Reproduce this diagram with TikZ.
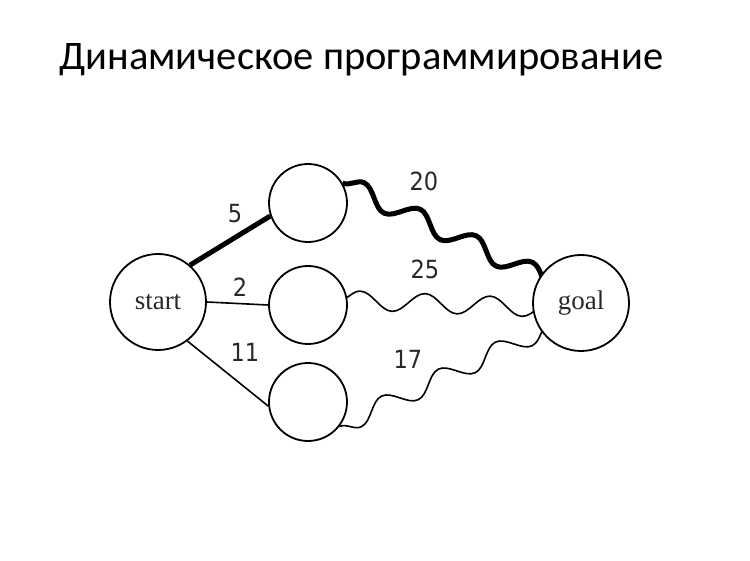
\documentclass[tikz,border=0pt]{standalone}
\usepackage{fontspec}
\setmainfont{Liberation Serif}
\newfontfamily\titlefont{Carlito}
\newfontfamily\numfont{DejaVu Sans Condensed}
\usetikzlibrary{decorations.pathmorphing,backgrounds,calc}
\definecolor{txt}{RGB}{40,40,40}
\begin{document}
\begin{tikzpicture}[x=1pt,y=-1pt,
  vertex/.style={circle,draw,line width=1.8pt,fill=white,inner sep=0pt,text=txt},
  bigv/.style={vertex,minimum size=96pt,font=\fontsize{27}{27}\selectfont},
  smallv/.style={vertex,minimum size=78pt},
  edge/.style={line width=1.6pt},
  heavy/.style={line width=5pt},
  wave/.style={decorate,decoration={snake,segment length=#1,amplitude=9.5pt}},
  lbl/.style={font=\numfont\fontsize{25}{25}\selectfont,text=txt}
]
\useasboundingbox (0,0) rectangle (750,561);
\node[anchor=base west,font=\titlefont\fontsize{40.5}{40.5}\selectfont] (title) at (56,70) {Динамическое программирование};

\node[bigv] (start) at (158,302) {start};
\node[smallv] (top) at (308,203) {};
\node[smallv] (mid) at (308,305) {};
\node[smallv] (bot) at (308,402) {};
\node[bigv] (goal) at (581,303) {goal};

\begin{scope}[on background layer]
\draw[heavy] (start.49) -- (top.199);
\draw[edge] (start.east) -- (mid.west);
\draw[edge] (start.-53) -- (bot.186);
\draw[heavy,wave=62] (top.30) -- ($(top.30)!1.35!(goal.147)$);
\draw[edge,wave=65] ($(mid.7)!-8pt!(goal.185)$) -- ($(mid.7)!1.4!(goal.185)$);
\draw[edge,wave=63,decoration={mirror}] (bot.-38) -- ($(bot.-38)!1.35!(goal.215)$);
\end{scope}

\node[lbl] (l5) at (235,214) {5};
\node[lbl] (l2) at (240,287) {2};
\node[lbl] (l11) at (245,352) {11};
\node[lbl] (l20) at (424,181) {20};
\node[lbl] (l25) at (425,269) {25};
\node[lbl] (l17) at (408,359) {17};
\end{tikzpicture}
\end{document}
